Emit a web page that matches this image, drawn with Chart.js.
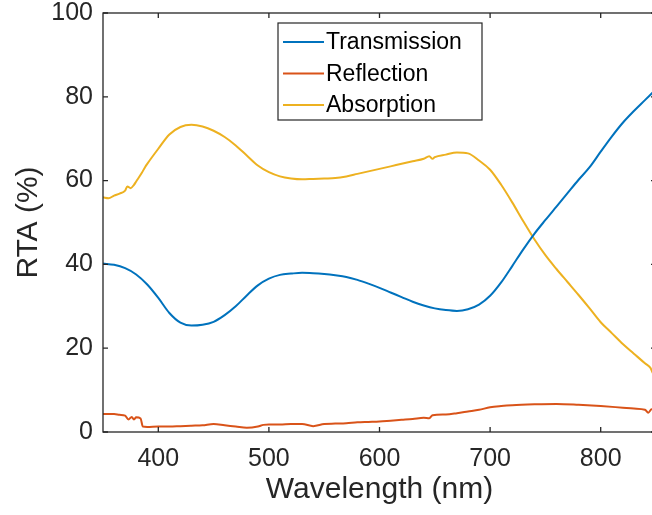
<!DOCTYPE html>
<html>
<head>
<meta charset="utf-8">
<script src="https://cdn.jsdelivr.net/npm/chart.js@4/dist/chart.umd.min.js"></script>
<style>
  html, body { margin: 0; padding: 0; background: #fff; overflow: hidden; }
  #wrap { width: 652px; height: 515px; overflow: hidden; }
</style>
</head>
<body>
<div id="wrap"><canvas id="grafico" width="657" height="515"></canvas></div>
<script>
// Dados (comprimento de onda em nm, valores em %)
const seriesNomes = ["Transmission", "Reflection", "Absorption"];
const xTicks = [400, 500, 600, 700, 800];
const yTicks = [0, 20, 40, 60, 80, 100];

const transOnda = [350, 360, 370, 380, 390, 400, 410, 420, 430, 440, 450, 460, 470, 480, 490, 500,
  510, 520, 530, 540, 550, 560, 570, 580, 590, 600, 610, 620, 630, 640, 650, 660, 670, 680, 690,
  700, 710, 720, 730, 740, 750, 760, 770, 780, 790, 800, 810, 820, 830, 840, 850];
const transValores = [40.2, 39.9, 39.1, 37.6, 35.2, 32.0, 28.4, 26.1, 25.4, 25.6, 26.3, 27.9, 30.0, 32.6,
  35.0, 36.6, 37.5, 37.8, 38.0, 37.9, 37.7, 37.4, 37.0, 36.3, 35.4, 34.4, 33.3, 32.2, 31.1, 30.2,
  29.5, 29.1, 28.9, 29.3, 30.4, 32.5, 35.7, 39.6, 43.6, 47.3, 50.6, 53.8, 57.0, 60.2, 63.2, 66.9,
  70.5, 73.8, 76.6, 79.2, 81.8];

const reflOnda = [350, 360, 365, 370, 373, 376, 378, 380, 384, 386, 390, 400, 410, 420, 430, 440, 450,
  460, 470, 480, 490, 495, 500, 510, 520, 530, 540, 550, 560, 570, 580, 590, 600, 610, 620, 630,
  640, 645, 648, 660, 670, 680, 690, 700, 710, 720, 740, 760, 780, 800, 820, 830, 840, 843, 846, 850];
const reflValores = [4.3, 4.3, 4.1, 3.9, 3.0, 3.6, 3.0, 3.5, 3.2, 1.3, 1.2, 1.3, 1.3, 1.4, 1.5, 1.6, 1.9,
  1.6, 1.3, 1.0, 1.3, 1.7, 1.8, 1.8, 1.9, 1.9, 1.4, 1.9, 2.0, 2.1, 2.3, 2.4, 2.5, 2.7, 2.9, 3.1,
  3.4, 3.3, 4.0, 4.2, 4.5, 4.9, 5.3, 5.9, 6.2, 6.4, 6.6, 6.7, 6.5, 6.2, 5.8, 5.6, 5.3, 4.6, 5.4, 4.8];

const absOnda = [350, 355, 360, 365, 370, 372, 375, 378, 380, 385, 388, 390, 400, 410, 420, 430, 440,
  450, 460, 470, 480, 490, 500, 510, 520, 530, 540, 550, 560, 570, 580, 590, 600, 610, 620, 630,
  640, 645, 648, 650, 660, 670, 680, 690, 700, 710, 720, 730, 740, 750, 760, 770, 780, 790, 800,
  810, 820, 830, 840, 845, 848, 850];
const absValores = [56.0, 55.8, 56.4, 56.9, 57.6, 58.6, 58.2, 59.0, 59.8, 61.8, 63.2, 64.0, 67.6, 71.0,
  72.8, 73.3, 72.9, 71.9, 70.4, 68.4, 66.0, 63.6, 62.0, 61.0, 60.5, 60.3, 60.4, 60.5, 60.6, 61.0,
  61.6, 62.2, 62.8, 63.4, 64.0, 64.6, 65.2, 65.8, 65.2, 65.6, 66.2, 66.7, 66.5, 64.8, 62.6, 59.0,
  54.8, 50.3, 46.0, 42.2, 38.9, 35.8, 32.7, 29.5, 26.2, 23.6, 21.0, 18.7, 16.4, 15.3, 13.8, 14.0];

const cores = ["#0072BD", "#D95319", "#EDB120"];

function paraPontos(xs, ys) {
  return xs.map((x, i) => ({ x: x, y: ys[i] }));
}

const corEixo = "#262626";
const fonte = "'Liberation Sans', Arial, sans-serif";

// Caixa dos eixos com marcas internas (estilo MATLAB) e legenda
const pluginEixos = {
  id: "eixos",
  afterDraw(chart) {
    const ctx = chart.ctx;
    const a = chart.chartArea;
    const sx = chart.scales.x;
    const sy = chart.scales.y;
    ctx.save();
    ctx.strokeStyle = corEixo;
    ctx.lineWidth = 1.3;
    ctx.strokeRect(a.left, a.top, a.right - a.left, a.bottom - a.top);
    const t = 5;
    ctx.beginPath();
    xTicks.forEach((v) => {
      const px = sx.getPixelForValue(v);
      ctx.moveTo(px, a.bottom); ctx.lineTo(px, a.bottom - t);
      ctx.moveTo(px, a.top); ctx.lineTo(px, a.top + t);
    });
    yTicks.forEach((v) => {
      const py = sy.getPixelForValue(v);
      ctx.moveTo(a.left, py); ctx.lineTo(a.left + t, py);
      ctx.moveTo(a.right, py); ctx.lineTo(a.right - t, py);
    });
    ctx.stroke();

    // legenda
    const bx = 278, by = 23, bw = 204, bh = 97;
    ctx.fillStyle = "#fff";
    ctx.fillRect(bx, by, bw, bh);
    ctx.lineWidth = 1.2;
    ctx.strokeRect(bx, by, bw, bh);
    const ys = [42, 73.5, 105];
    ctx.font = "23px " + fonte;
    ctx.textBaseline = "middle";
    ctx.textAlign = "left";
    seriesNomes.forEach((nome, i) => {
      ctx.strokeStyle = cores[i];
      ctx.lineWidth = 2;
      ctx.beginPath();
      ctx.moveTo(283, ys[i]);
      ctx.lineTo(324, ys[i]);
      ctx.stroke();
      ctx.fillStyle = "#000";
      ctx.fillText(nome, 326, ys[i] + 1);
    });
    ctx.restore();
  },
};

const ctx = document.getElementById("grafico").getContext("2d");
new Chart(ctx, {
  type: "line",
  data: {
    datasets: [
      { label: seriesNomes[0], data: paraPontos(transOnda, transValores), borderColor: cores[0] },
      { label: seriesNomes[1], data: paraPontos(reflOnda, reflValores), borderColor: cores[1] },
      { label: seriesNomes[2], data: paraPontos(absOnda, absValores), borderColor: cores[2] },
    ],
  },
  options: {
    responsive: false,
    animation: false,
    layout: { padding: { top: 13, right: 1, left: 0, bottom: 0 } },
    elements: {
      line: { borderWidth: 2, cubicInterpolationMode: "monotone" },
      point: { radius: 0 },
    },
    plugins: {
      legend: { display: false },
      tooltip: { enabled: false },
    },
    scales: {
      x: {
        type: "linear",
        min: 350,
        max: 850,
        afterBuildTicks: (s) => { s.ticks = xTicks.map((v) => ({ value: v })); },
        afterFit: (s) => { s.height = 83; s.paddingLeft = 0; s.paddingRight = 0; },
        grid: { display: false, drawTicks: false },
        border: { display: false },
        ticks: { color: corEixo, padding: 12, font: { family: fonte, size: 25 } },
        title: {
          display: true,
          text: "Wavelength (nm)",
          color: corEixo,
          padding: { top: 0, bottom: 7 },
          font: { family: fonte, size: 30 },
        },
      },
      y: {
        min: 0,
        max: 100,
        afterBuildTicks: (s) => { s.ticks = yTicks.map((v) => ({ value: v })); },
        afterFit: (s) => { s.width = 103; s.paddingTop = 0; s.paddingBottom = 0; },
        grid: { display: false, drawTicks: false },
        border: { display: false },
        ticks: { color: corEixo, padding: 10, font: { family: fonte, size: 25 } },
        title: {
          display: true,
          text: "RTA (%)",
          color: corEixo,
          padding: { top: 11, bottom: 0 },
          font: { family: fonte, size: 30 },
        },
      },
    },
  },
  plugins: [pluginEixos],
});
</script>
</body>
</html>
